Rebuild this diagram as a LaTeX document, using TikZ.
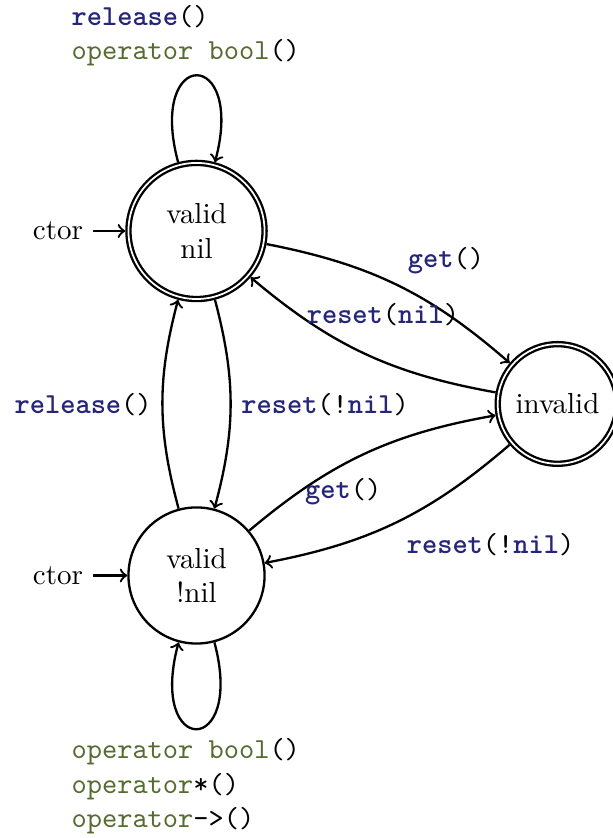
\documentclass[tikz,border=0pt]{standalone}
\usepackage{tikz}
\usepackage{xcolor}

\definecolor{kwblue}{RGB}{38,38,120}
\definecolor{opgreen}{RGB}{85,107,47}
\newcommand{\kw}[1]{\textcolor{kwblue}{\textbf{#1}}}
\newcommand{\op}[1]{\textcolor{opgreen}{#1}}

\begin{document}
\begin{tikzpicture}[
    statenode/.style={circle, draw, thick, align=center, inner sep=0pt, minimum size=1.65cm},
    accept/.style={double, double distance=0.6pt, outer sep=1.1pt},
    trans/.style={->, thick},
    lbl/.style={font=\ttfamily}]
    \useasboundingbox (0,0) rectangle (7.43,10.158);
    % States
    \node[statenode, accept] (nil) at (2.382,7.358) {valid\\nil};
    \node[statenode] (notnil) at (2.382,3.182) {valid\\!nil};
    \node[statenode, accept, minimum size=1.45cm] (inv) at (6.758,5.261) {invalid};
    % Constructors
    \node (ctorA) at (0.703,7.358) {ctor};
    \node (ctorB) at (0.703,3.182) {ctor};
    \draw[trans] (ctorA) -- (nil);
    \draw[trans] (ctorB) -- (notnil);
    % Self loops
    \draw[trans] (nil) to[out=105, in=75, min distance=1.45cm]
        node[lbl, above, align=left, xshift=-0.13cm, yshift=-0.6pt]
        {\kw{release}()\\\op{operator bool}()} (nil);
    \draw[trans] (notnil) to[out=285, in=255, min distance=1.45cm]
        node[lbl, below, align=left, xshift=-0.13cm, yshift=0.6pt]
        {\op{operator bool}()\\\op{operator}*()\\\op{operator}->()} (notnil);
    % Transitions
    \draw[trans] (nil) to[bend left=15] node[lbl, above right] {\kw{get}()} (inv);
    \draw[trans] (inv) to[bend left=15] node[lbl, above=8.5pt, pos=0.42] {\kw{reset}(\kw{nil})} (nil);
    \draw[trans] (nil) to[bend left=15] node[lbl, right] {\kw{reset}(!\kw{nil})} (notnil);
    \draw[trans] (notnil) to[bend left=15] node[lbl, left] {\kw{release}()} (nil);
    \draw[trans] (notnil) to[bend left=15] node[lbl, below=1pt, pos=0.41] {\kw{get}()} (inv);
    \draw[trans] (inv) to[bend left=15] node[lbl, below right] {\kw{reset}(!\kw{nil})} (notnil);
\end{tikzpicture}
\end{document}
